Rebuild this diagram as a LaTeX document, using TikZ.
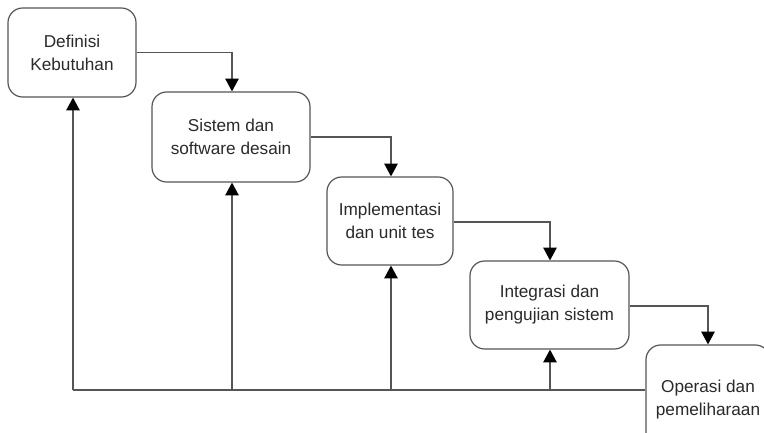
\documentclass[tikz,border=0pt]{standalone}
\usepackage{fontspec}
\setmainfont{Liberation Sans}
\usetikzlibrary{arrows.meta}
\definecolor{linec}{HTML}{555555}
\definecolor{textc}{HTML}{2a2a2a}
\begin{document}
\begin{tikzpicture}[x=0.75pt,y=-0.75pt,
  box/.style={draw=linec, line width=0.9pt, rounded corners=11pt, fill=white, text=textc,
    align=center, inner sep=0pt, font=\fontsize{12.9}{17.25}\selectfont},
  conn/.style={draw=linec, line width=0.9pt, -{Triangle[width=10pt,length=9.5pt,color=black]}},
  plain/.style={draw=linec, line width=0.9pt}]
\useasboundingbox (0,0) rectangle (764,432);
\begin{scope}
\clip (0,0) rectangle (764,432);
\node[box, minimum width=128*0.75pt, minimum height=89*0.75pt] (b1) at (72,52.5) {Definisi\\Kebutuhan};
\node[box, minimum width=158*0.75pt, minimum height=90*0.75pt] (b2) at (231,137) {Sistem dan\\software desain};
\node[box, minimum width=126*0.75pt, minimum height=88*0.75pt] (b3) at (390,221) {Implementasi\\dan unit tes};
\node[box, minimum width=159*0.75pt, minimum height=88*0.75pt] (b4) at (549.5,305) {Integrasi dan\\pengujian sistem};
\node[box, minimum width=124*0.75pt, minimum height=110*0.75pt] (b5) at (708,400) {Operasi dan\\pemeliharaan};

\coordinate (c12) at (232,52.5);
\coordinate (c23) at (391,137);
\coordinate (c34) at (550,222);
\coordinate (c45) at (708,306);
\draw[conn] (b1.east |- c12) -| (b2.north -| c12);
\draw[conn] (b2.east |- c23) -| (b3.north -| c23);
\draw[conn] (b3.east |- c34) -| (b4.north -| c34);
\draw[conn] (b4.east |- c45) -| (b5.north -| c45);

\coordinate (f1) at (73,390);
\coordinate (f2) at (232,390);
\coordinate (f3) at (391,390);
\coordinate (f4) at (550,390);
\draw[plain] (b5.west |- f1) -- (f1);
\draw[conn] (f1) -- (b1.south -| f1);
\draw[conn] (f2) -- (b2.south -| f2);
\draw[conn] (f3) -- (b3.south -| f3);
\draw[conn] (f4) -- (b4.south -| f4);
\end{scope}
\end{tikzpicture}
\end{document}
